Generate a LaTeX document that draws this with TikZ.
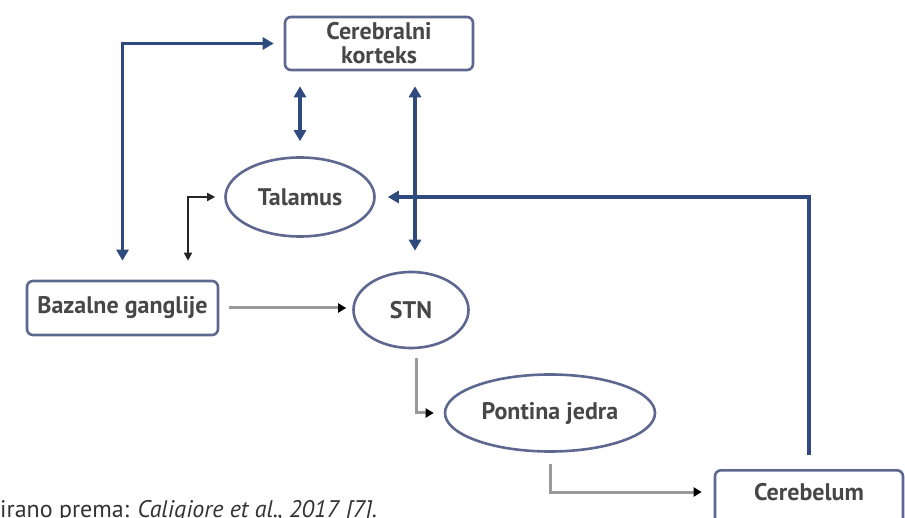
\documentclass[tikz,border=0pt]{standalone}
\usepackage{fontspec}
\setmainfont{PT Sans}
\usetikzlibrary{arrows.meta,shapes.geometric,calc}

\definecolor{navy}{HTML}{2F4A7E}
\definecolor{frame}{HTML}{5E6790}
\definecolor{label}{HTML}{474747}
\definecolor{grayline}{HTML}{999999}

\tikzset{
  lbl/.style={font=\fontsize{24}{24}\selectfont\bfseries, text=label, inner sep=0pt, align=center},
  boxnode/.style={lbl, draw=frame, line width=2.6pt, rounded corners=6pt, rectangle},
  ovalnode/.style={lbl, draw=frame, line width=2.6pt, ellipse},
  bluearrow/.style={draw=navy, line width=3.2pt, -{Triangle[length=11pt,width=12pt]}},
  bluedouble/.style={draw=navy, line width=3.2pt, {Triangle[length=11pt,width=12pt]}-{Triangle[length=11pt,width=12pt]}},
  blackdouble/.style={draw=black!85, line width=1.7pt, {Triangle[length=8pt,width=8pt]}-{Triangle[length=8pt,width=8pt]}},
  grayarrow/.style={draw=grayline, line width=3pt, -{Triangle[length=8pt,width=9pt,color=black]}},
}

\begin{document}
\begin{tikzpicture}[x=1pt,y=-1pt]
  \clip (0,0) rectangle (905,518);
  \fill[white] (0,0) rectangle (905,518);

  % structures
  \node[boxnode, minimum width=188pt, minimum height=53pt] (ctx) at (379,43.5) {Cerebralni\\korteks};
  \node[ovalnode, minimum width=149pt, minimum height=79pt] (tal) at (300,197) {Talamus};
  \node[boxnode, minimum width=191pt, minimum height=54pt] (baz) at (122.5,308) {Bazalne ganglije};
  \node[ovalnode, minimum width=115pt, minimum height=76pt] (stn) at (411,310) {STN};
  \node[ovalnode, minimum width=210pt, minimum height=77pt] (pont) at (550,413) {Pontina jedra};
  \node[boxnode, minimum width=188pt, minimum height=56pt, anchor=north] (cer) at (809,469) {};
  \node[lbl] (certxt) at (809,492) {Cerebelum};

  % helper points for the vertical double links
  \coordinate (stnTop) at ([xshift=4pt]stn.north);
  \coordinate (ctxBotR) at (ctx.south -| stnTop);

  % connections
  \draw[bluedouble, shorten <=19pt, shorten >=10pt] (baz.north) |- (ctx.west);
  \draw[bluedouble, shorten <=15pt, shorten >=15pt] (tal.north) -- (tal.north |- ctx.south);
  \draw[bluedouble, shorten <=20pt, shorten >=15pt] (stnTop) -- (ctxBotR);
  \draw[blackdouble, shorten <=19pt, shorten >=9pt] ([xshift=65.5pt]baz.north) |- (tal.west);
  \draw[bluearrow, shorten <=14pt, shorten >=12pt] (cer.north) |- (tal.east);
  \draw[grayarrow, shorten <=10pt, shorten >=6pt] (baz.east) -- (stn.west |- baz.east);
  \draw[grayarrow, shorten <=9pt, shorten >=10pt] ([xshift=5pt]stn.south) |- (pont.west);
  \draw[grayarrow, shorten <=11pt, shorten >=12pt] (pont.south) |- (cer.west |- certxt);

  % source note
  \node[anchor=base west, inner sep=0pt, text=black!80, font=\fontsize{24}{27}\selectfont] (src) at (0,517)
    {irano prema: \textit{Caligiore et al., 2017 [7].}};
\end{tikzpicture}
\end{document}
